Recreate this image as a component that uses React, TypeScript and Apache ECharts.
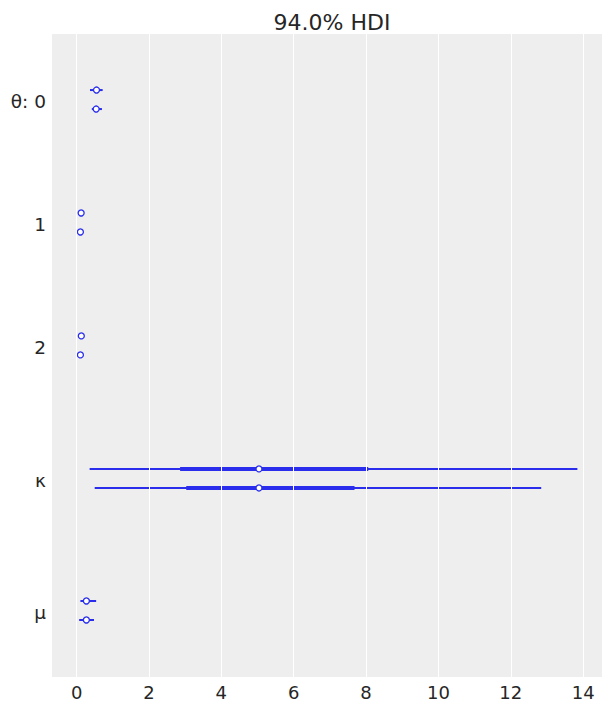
import React, { useEffect, useRef } from "react";
import * as echarts from "echarts";

// Variables (top to bottom) and their labels
const variableLabels = ["θ: 0", "1", "2", "κ", "μ"];
// Row positions (in row units from the top) for chain 0 and chain 1 of each variable
const chain0Rows = [2.95, 9.42, 15.89, 22.89, 29.84];
const chain1Rows = [3.95, 10.42, 16.89, 23.89, 30.84];
const yMax = 33.84;

// Chain 0 statistics: [hdi low, iqr low, median, iqr high, hdi high]
const chain0Stats = [
  [0.37, 0.48, 0.55, 0.62, 0.72],
  [0.09, 0.11, 0.125, 0.14, 0.16],
  [0.09, 0.115, 0.13, 0.145, 0.17],
  [0.36, 2.86, 5.04, 8.06, 13.84],
  [0.105, 0.2, 0.27, 0.35, 0.54],
];
// Chain 1 statistics
const chain1Stats = [
  [0.42, 0.49, 0.54, 0.6, 0.7],
  [0.07, 0.09, 0.105, 0.12, 0.14],
  [0.07, 0.09, 0.105, 0.12, 0.14],
  [0.5, 3.03, 5.04, 7.68, 12.84],
  [0.07, 0.19, 0.27, 0.34, 0.48],
];

const xTicks = [0, 2, 4, 6, 8, 10, 12, 14];
const xMin = -0.68;
const xMax = 14.52;
const title = "94.0% HDI";

export default function App() {
  const ref = useRef<HTMLDivElement>(null);
  useEffect(() => {
    if (!ref.current) return;
    const chart = echarts.init(ref.current, undefined, { renderer: "svg" });
    const color = "#2a2eec";
    const data: number[][] = [];
    variableLabels.forEach((_, i) => {
      data.push([chain0Rows[i], ...chain0Stats[i]]);
      data.push([chain1Rows[i], ...chain1Stats[i]]);
    });
    const labelValues = variableLabels.map((_, i) => (chain0Rows[i] + chain1Rows[i]) / 2 + 0.1);
    const font = "DejaVu Sans";
    chart.setOption({
      animation: false,
      title: {
        text: title,
        left: 327,
        textAlign: "center",
        top: 6,
        textStyle: { fontFamily: font, fontSize: 22, fontWeight: "normal", color: "#262626" },
      },
      grid: {
        left: 52,
        right: 9,
        top: 34,
        bottom: 34,
        show: true,
        backgroundColor: "#eeeeee",
        borderWidth: 0,
      },
      xAxis: {
        type: "value",
        min: xMin,
        max: xMax,
        axisLine: { show: false },
        axisTick: { show: false },
        splitLine: { show: false },
        axisLabel: {
          customValues: xTicks,
          fontFamily: font,
          fontSize: 18,
          color: "#262626",
          margin: 6,
        },
      },
      yAxis: {
        type: "value",
        min: 0,
        max: yMax,
        inverse: true,
        axisLine: { show: false },
        axisTick: { show: false },
        splitLine: { show: false },
        axisLabel: {
          customValues: labelValues,
          formatter: (v: number) => {
            const idx = labelValues.findIndex((l) => Math.abs(l - v) < 1e-6);
            return idx >= 0 ? variableLabels[idx] : "";
          },
          fontFamily: font,
          fontSize: 18.5,
          color: "#262626",
          margin: 6,
        },
      },
      series: [
        {
          type: "line",
          data: [],
          z: 1,
          silent: true,
          markLine: {
            silent: true,
            symbol: "none",
            label: { show: false },
            lineStyle: { color: "#ffffff", width: 1, type: "solid" },
            data: xTicks.map((t) => ({ xAxis: t })),
          },
        },
        {
          type: "custom",
          z: 3,
          data,
          encode: { x: [1, 2, 3, 4, 5], y: 0 },
          renderItem: (params: any, api: any) => {
            const y = api.value(0);
            const lo = api.coord([api.value(1), y]);
            const q1 = api.coord([api.value(2), y]);
            const med = api.coord([api.value(3), y]);
            const q3 = api.coord([api.value(4), y]);
            const hi = api.coord([api.value(5), y]);
            return {
              type: "group",
              children: [
                {
                  type: "line",
                  shape: { x1: lo[0], y1: lo[1], x2: hi[0], y2: hi[1] },
                  style: { stroke: color, lineWidth: 2 },
                },
                {
                  type: "line",
                  shape: { x1: q1[0], y1: q1[1], x2: q3[0], y2: q3[1] },
                  style: { stroke: color, lineWidth: 4 },
                },
                {
                  type: "circle",
                  shape: { cx: med[0], cy: med[1], r: 3 },
                  style: { fill: "#ffffff", stroke: color, lineWidth: 1.3 },
                },
              ],
            };
          },
        },
      ],
    });
    return () => chart.dispose();
  }, []);
  return <div ref={ref} style={{ width: 611, height: 711, margin: -8 }} />;
}
